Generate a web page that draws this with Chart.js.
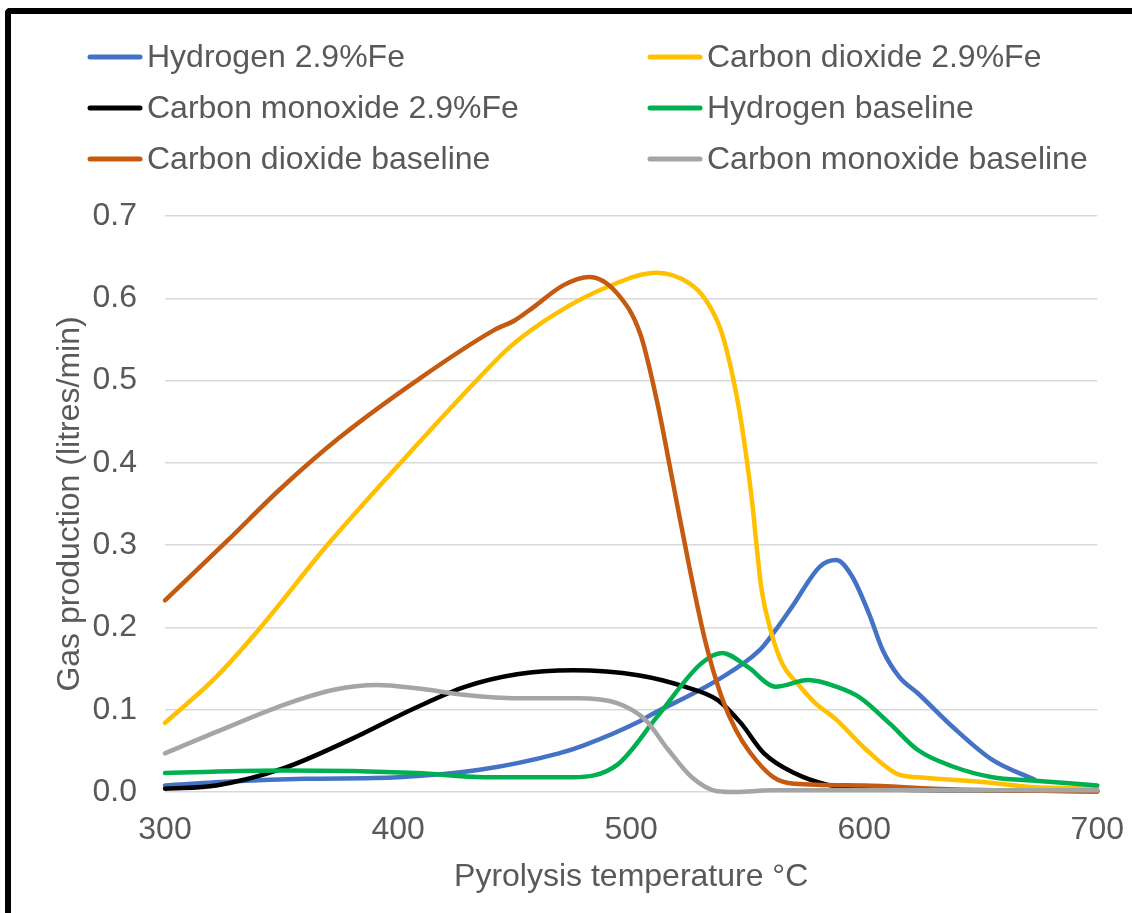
<!DOCTYPE html>
<html>
<head>
<meta charset="utf-8">
<script src="https://cdn.jsdelivr.net/npm/chart.js@4.4.1/dist/chart.umd.min.js"></script>
<style>
  html,
  body {
    margin: 0;
    padding: 0;
    background: #ffffff;
  }
  #wrap {
    position: relative;
    width: 1132px;
    height: 913px;
    overflow: hidden;
    background: #ffffff;
  }
  #chart {
    position: absolute;
    left: 0;
    top: 0;
  }
  #frame {
    position: absolute;
    left: 5px;
    top: 8px;
    width: 1200px;
    height: 1000px;
    border-left: 6px solid #000000;
    border-top: 6px solid #000000;
    border-top-left-radius: 5px;
    pointer-events: none;
  }
</style>
</head>
<body>
<div id="wrap">
  <canvas id="chart" width="1132" height="913"></canvas>
  <div id="frame"></div>
</div>
<script>
// Pyrolysis temperature (°C) and gas production (litres/min) per series
const h2FeTemps = [300, 330, 360, 400, 435, 469, 480, 503, 508, 537, 555, 561, 569, 581, 588, 595, 602, 608, 615, 623, 638, 655, 673];
const h2FeValues = [0.008, 0.013, 0.016, 0.018, 0.027, 0.047, 0.057, 0.085, 0.093, 0.136, 0.172, 0.193, 0.225, 0.274, 0.282, 0.261, 0.217, 0.172, 0.14, 0.12, 0.079, 0.039, 0.015];

const co2FeTemps = [300, 322, 341, 369, 402, 435, 448, 468, 490, 511, 525, 532, 538, 542, 546, 549, 552, 554, 556, 560, 565, 571, 579, 588, 601, 615, 623, 655, 672, 700];
const co2FeValues = [0.084, 0.14, 0.2, 0.298, 0.403, 0.504, 0.541, 0.582, 0.614, 0.631, 0.618, 0.598, 0.565, 0.525, 0.47, 0.416, 0.35, 0.294, 0.245, 0.195, 0.155, 0.133, 0.108, 0.088, 0.051, 0.021, 0.018, 0.011, 0.006, 0.004];

const coFeTemps = [300, 322, 351, 379, 408, 429, 451, 475, 503, 523, 537, 547, 557, 570, 584, 600, 650, 700];
const coFeValues = [0.004, 0.008, 0.029, 0.063, 0.103, 0.128, 0.143, 0.148, 0.142, 0.128, 0.112, 0.084, 0.047, 0.023, 0.009, 0.004, 0.002, 0.001];

const h2BaseTemps = [300, 351, 408, 437, 475, 494, 511, 530, 539, 550, 562, 576, 588, 598, 611, 623, 638, 655, 672, 700];
const h2BaseValues = [0.023, 0.026, 0.023, 0.018, 0.018, 0.033, 0.091, 0.156, 0.169, 0.152, 0.128, 0.136, 0.128, 0.115, 0.083, 0.051, 0.031, 0.018, 0.014, 0.008];

const co2BaseTemps = [300, 327, 349, 375, 408, 441, 450, 458, 471, 482, 494, 504, 511, 518, 525, 532, 539, 545, 551, 561, 570, 600, 630, 660, 700];
const co2BaseValues = [0.233, 0.306, 0.367, 0.431, 0.5, 0.561, 0.573, 0.589, 0.616, 0.626, 0.606, 0.556, 0.476, 0.375, 0.273, 0.181, 0.114, 0.075, 0.048, 0.018, 0.01, 0.008, 0.004, 0.002, 0.001];

const coBaseTemps = [300, 322, 351, 372, 391, 408, 429, 451, 477, 494, 506, 516, 526, 537, 545, 560, 600, 700];
const coBaseValues = [0.047, 0.073, 0.106, 0.124, 0.13, 0.126, 0.118, 0.114, 0.114, 0.108, 0.088, 0.051, 0.018, 0.001, 0.0, 0.002, 0.002, 0.002];

const seriesLabels = [
  "Hydrogen 2.9%Fe",
  "Carbon dioxide 2.9%Fe",
  "Carbon monoxide 2.9%Fe",
  "Hydrogen baseline",
  "Carbon dioxide baseline",
  "Carbon monoxide baseline",
];
const seriesColors = ["#4472C4", "#FFC000", "#000000", "#00B050", "#C55A11", "#A5A5A5"];

const xTicks = [300, 400, 500, 600, 700];
const yTicks = [0, 0.1, 0.2, 0.3, 0.4, 0.5, 0.6, 0.7];

const FONT_FAMILY = "Arial, 'Liberation Sans', sans-serif";
const TEXT_COLOR = "#595959";
const GRID_COLOR = "#D9D9D9";

const toPoints = (temps, values) =>
  temps.map((t, i) => ({ x: t, y: values[i] }));

const seriesData = [
  toPoints(h2FeTemps, h2FeValues),
  toPoints(co2FeTemps, co2FeValues),
  toPoints(coFeTemps, coFeValues),
  toPoints(h2BaseTemps, h2BaseValues),
  toPoints(co2BaseTemps, co2BaseValues),
  toPoints(coBaseTemps, coBaseValues),
];

// two-column legend above the plot, row-major like the spreadsheet one
const gridLegendPlugin = {
  id: "gridLegend",
  afterDraw(chart, _args, options) {
    const ctx = chart.ctx;
    const cols = options.columns || [88, 648];
    const rows = options.rows || [57, 108, 159];
    const lineLength = options.lineLength || 54;
    ctx.save();
    ctx.font = `${options.fontSize || 32}px ${FONT_FAMILY}`;
    ctx.textBaseline = "middle";
    ctx.textAlign = "left";
    chart.data.datasets.forEach((ds, i) => {
      const x = cols[i % cols.length];
      const y = rows[Math.floor(i / cols.length)];
      ctx.strokeStyle = ds.borderColor;
      ctx.lineWidth = 5;
      ctx.lineCap = "round";
      ctx.beginPath();
      ctx.moveTo(x + 2, y);
      ctx.lineTo(x + lineLength - 2, y);
      ctx.stroke();
      ctx.fillStyle = TEXT_COLOR;
      ctx.fillText(ds.label, x + lineLength + 5, y + 1);
    });
    ctx.restore();
  },
};

const whiteBackground = {
  id: "whiteBackground",
  beforeDraw(chart) {
    const ctx = chart.ctx;
    ctx.save();
    ctx.fillStyle = "#ffffff";
    ctx.fillRect(0, 0, chart.width, chart.height);
    ctx.restore();
  },
};

const datasets = seriesData.map((data, i) => ({
  label: seriesLabels[i],
  data,
  borderColor: seriesColors[i],
  backgroundColor: seriesColors[i],
  borderWidth: 4.5,
  pointRadius: 0,
  cubicInterpolationMode: "monotone",
  borderCapStyle: "round",
  borderJoinStyle: "round",
  fill: false,
  clip: 4,
  // later series sit on top
  order: seriesData.length - i,
}));

new Chart(document.getElementById("chart").getContext("2d"), {
  type: "line",
  plugins: [whiteBackground, gridLegendPlugin],
  data: { datasets },
  options: {
    responsive: false,
    animation: false,
    events: [],
    layout: {
      padding: { top: 216, right: 24, bottom: 0, left: 46 },
    },
    plugins: {
      legend: { display: false },
      tooltip: { enabled: false },
      gridLegend: {
        columns: [88, 648],
        rows: [57, 108, 159],
        lineLength: 54,
        fontSize: 32,
      },
    },
    scales: {
      x: {
        type: "linear",
        min: xTicks[0],
        max: xTicks[xTicks.length - 1],
        afterBuildTicks(scale) {
          scale.ticks = xTicks.map((v) => ({ value: v }));
        },
        afterFit(scale) {
          scale.height = 121;
        },
        grid: { display: false, drawTicks: false },
        border: { display: false },
        ticks: {
          color: TEXT_COLOR,
          // tall line height pushes labels down without widening the side padding
          font: { family: FONT_FAMILY, size: 32, lineHeight: 1.9 },
          padding: 8,
          maxRotation: 0,
          callback: (value) => String(value),
        },
        title: {
          display: true,
          text: "Pyrolysis temperature °C",
          color: TEXT_COLOR,
          font: { family: FONT_FAMILY, size: 32 },
          padding: { top: 0, bottom: 17 },
        },
      },
      y: {
        type: "linear",
        min: yTicks[0],
        max: yTicks[yTicks.length - 1],
        afterBuildTicks(scale) {
          scale.ticks = yTicks.map((v) => ({ value: v }));
        },
        afterFit(scale) {
          scale.width = 119;
        },
        grid: {
          color: GRID_COLOR,
          lineWidth: 1.5,
          drawTicks: false,
        },
        border: { display: false },
        ticks: {
          color: TEXT_COLOR,
          font: { family: FONT_FAMILY, size: 32 },
          padding: 28,
          callback: (value) => Number(value).toFixed(1),
        },
        title: {
          display: true,
          text: "Gas production (litres/min)",
          color: TEXT_COLOR,
          font: { family: FONT_FAMILY, size: 32 },
          padding: { top: 5, bottom: 0 },
        },
      },
    },
  },
});
</script>
</body>
</html>
